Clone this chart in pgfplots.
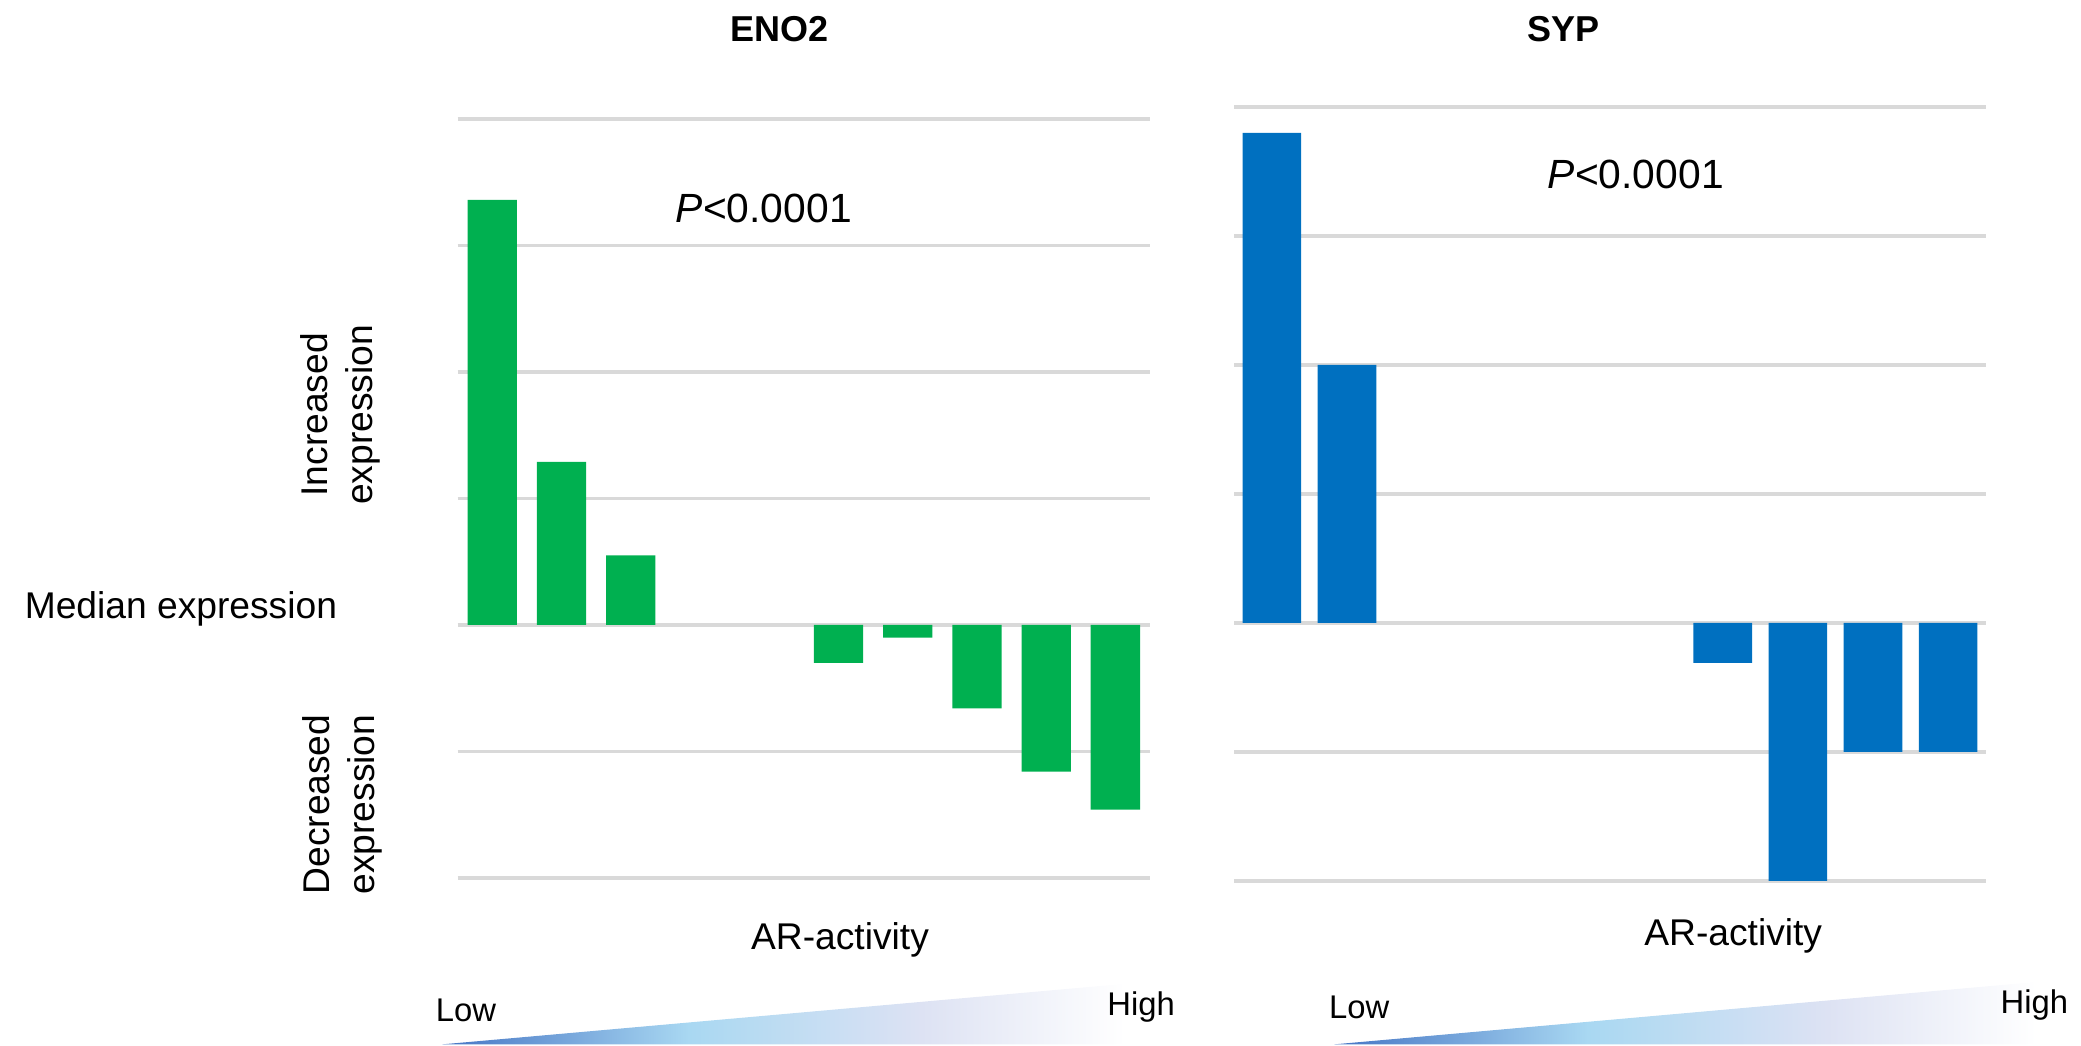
\documentclass[border=0pt]{standalone}
\usepackage{pgfplots}
\pgfplotsset{compat=1.18}
\usepackage{fontspec}
\setmainfont{Liberation Sans}
\definecolor{enogreen}{HTML}{00B050}
\definecolor{sypblue}{HTML}{0070C0}
\definecolor{gridgray}{HTML}{D9D9D9}
\definecolor{shA}{HTML}{4474C4}
\definecolor{shB}{HTML}{A9D8F2}
\definecolor{shC}{HTML}{DDE2F3}
\pgfdeclarehorizontalshading{arshade}{100bp}{color(0bp)=(shA); color(25bp)=(shA); color(42bp)=(shB); color(58bp)=(shC); color(72bp)=(white); color(100bp)=(white)}
\pgfplotsset{
  mybars/.style={
    scale only axis, anchor=south west,
    xmin=0.5, xmax=10.5, ymin=-2, ymax=4,
    ytick={-2,-1,0,1,2,3,4}, yticklabels={}, xtick=\empty,
    ymajorgrids, major grid style={draw=gridgray, line width=0.8pt},
    axis line style={draw=none}, tick style={draw=none},
    ybar, clip=false,
  }
}
\begin{document}
\begin{tikzpicture}
\useasboundingbox (0,0) rectangle (520.25pt,261.5pt);
% ENO2
\begin{axis}[mybars, at={(114.425pt,42pt)}, width=173.075pt, height=189.75pt, bar width=0.712]
\addplot[fill=enogreen, draw=none] coordinates {(1,3.36) (2,1.29) (3,0.55) (6,-0.30) (7,-0.10) (8,-0.66) (9,-1.16) (10,-1.46)};
\end{axis}
% SYP
\begin{axis}[mybars, at={(308.575pt,41.25pt)}, width=187.85pt, height=193.5pt, bar width=0.78]
\addplot[fill=sypblue, draw=none] coordinates {(1,3.80) (2,2.00) (7,-0.31) (8,-2.00) (9,-1.00) (10,-1.00)};
\end{axis}
% titles
\node[font=\fontsize{9}{11}\selectfont\bfseries] at (195pt,254.3pt) {ENO2};
\node[font=\fontsize{9}{11}\selectfont\bfseries] at (390.9pt,254.3pt) {SYP};
% p-values
\node[font=\fontsize{10.2}{12}\selectfont] at (190.95pt,209.4pt) {\textit{P}<0.0001};
\node[font=\fontsize{10.2}{12}\selectfont] at (408.95pt,218pt) {\textit{P}<0.0001};
% x labels
\node[font=\fontsize{9.3}{11}\selectfont] at (210pt,26.6pt) {AR-activity};
\node[font=\fontsize{9.3}{11}\selectfont] at (433.3pt,27.6pt) {AR-activity};
% y labels
\node[font=\fontsize{9.3}{11}\selectfont, anchor=west, inner sep=0pt] at (6pt,109.2pt) {Median expression};
\node[font=\fontsize{9.3}{11.3}\selectfont, rotate=90, align=center, inner sep=0pt] at (85.1pt,157.8pt) {Increased\\expression};
\node[font=\fontsize{9.3}{11.3}\selectfont, rotate=90, align=center, inner sep=0pt] at (85.6pt,60.35pt) {Decreased\\expression};
% gradient wedges
\shade[shading=arshade] (110.5pt,0.4pt) -- (292pt,16.5pt) -- (292pt,0.4pt) -- cycle;
\shade[shading=arshade] (333.5pt,0.4pt) -- (520.25pt,17pt) -- (520.25pt,0.4pt) -- cycle;
\node[font=\fontsize{8.2}{10}\selectfont] at (116.5pt,9.0pt) {Low};
\node[font=\fontsize{8.2}{10}\selectfont] at (285.3pt,9.7pt) {High};
\node[font=\fontsize{8.2}{10}\selectfont] at (339.8pt,9.6pt) {Low};
\node[font=\fontsize{8.2}{10}\selectfont] at (508.6pt,10.3pt) {High};
\end{tikzpicture}
\end{document}
